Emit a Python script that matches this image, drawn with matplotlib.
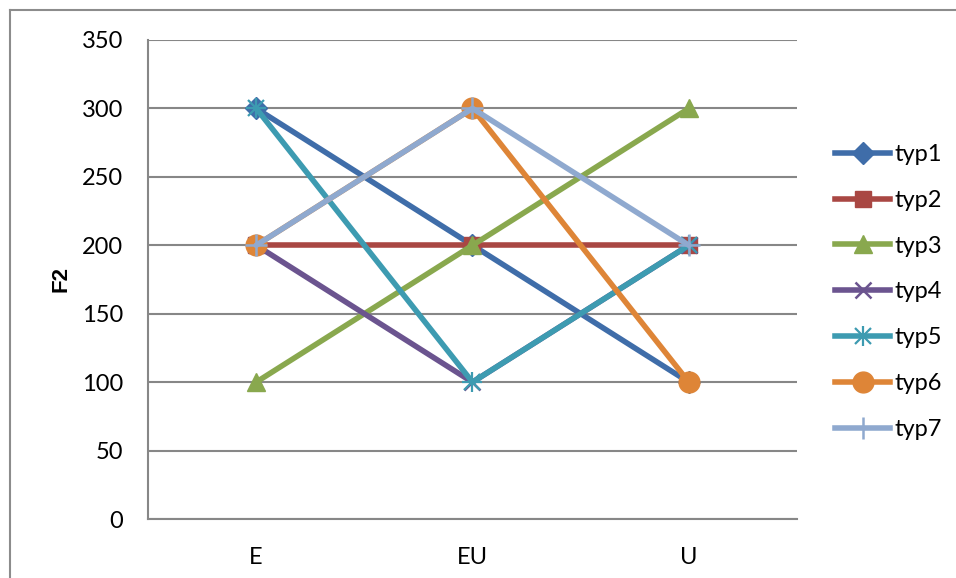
import matplotlib
matplotlib.use("Agg")
import matplotlib.pyplot as plt
from matplotlib.lines import Line2D

categories = ["E", "EU", "U"]
series_names = ["typ1", "typ2", "typ3", "typ4", "typ5", "typ6", "typ7"]
typ1 = [300, 200, 100]
typ2 = [200, 200, 200]
typ3 = [100, 200, 300]
typ4 = [200, 100, 200]
typ5 = [300, 100, 200]
typ6 = [200, 300, 100]
typ7 = [200, 300, 200]
values = [typ1, typ2, typ3, typ4, typ5, typ6, typ7]
y_ticks = [0, 50, 100, 150, 200, 250, 300, 350]

colors = ["#3F6DA9", "#A94743", "#89A84E", "#6B548F", "#3D9BB1", "#DE8537", "#8FA9CF"]
markers = ["D", "s", "^", "x", "*", "o", "+"]
msizes = [11, 11, 13, 12, 14, 15, 16]

plt.rcParams['font.family'] = ['Lato', 'DejaVu Sans']
FS = 17

fig = plt.figure(figsize=(9.56, 5.78), dpi=100)
W, H = 956, 578
ax = fig.add_axes([148 / W, 1 - 519 / H, (797 - 148) / W, (519 - 40) / H])

x = list(range(len(categories)))
for name, vals, c, m, ms in zip(series_names, values, colors, markers, msizes):
    if m == "*":
        ax.plot(x, vals, color=c, lw=4, marker="x", ms=12, mew=1.6, label=name,
                solid_capstyle="round", zorder=3)
        ax.plot(x, vals, color=c, lw=0, marker="+", ms=14, mew=1.6, zorder=3)
    elif m in ("x", "+"):
        ax.plot(x, vals, color=c, lw=4, marker=m, ms=ms, mew=1.8, label=name,
                solid_capstyle="round", zorder=3)
    else:
        ax.plot(x, vals, color=c, lw=4, marker=m, ms=ms, mec=c, mfc=c, label=name,
                solid_capstyle="round", zorder=3)

ax.set_xlim(-0.5, len(categories) - 0.5)
ax.set_ylim(0, 350)
ax.set_yticks(y_ticks)
ax.set_xticks(x)
ax.set_xticklabels(categories)
ax.tick_params(axis="both", length=0, labelsize=FS, colors="black")
ax.tick_params(axis="y", pad=18)
ax.tick_params(axis="x", pad=20)
ax.grid(axis="y", color="#878787", lw=1.5, zorder=0)
for s in ["top", "right"]:
    ax.spines[s].set_visible(False)
for s in ["left", "bottom"]:
    ax.spines[s].set_color("#878787")
    ax.spines[s].set_linewidth(1.5)
ax.set_ylabel("F2", fontsize=16, fontweight="bold", labelpad=0,
              family=["Liberation Sans", "DejaVu Sans"])
ax.yaxis.set_label_coords((72 - 148) / (797 - 148), 0.5)

leg_handles = []
for name, c, m, ms in zip(series_names, colors, markers, msizes):
    if m == "*":
        h = (Line2D([], [], color=c, lw=4, marker="x", ms=12, mew=1.6),
             Line2D([], [], color=c, lw=0, marker="+", ms=14, mew=1.6))
    elif m in ("x", "+"):
        h = Line2D([], [], color=c, lw=4, marker=m, ms=ms, mew=1.8)
    else:
        h = Line2D([], [], color=c, lw=4, marker=m, ms=ms, mec=c, mfc=c)
    leg_handles.append(h)
leg = fig.legend(leg_handles, series_names, loc="center left",
                 bbox_to_anchor=(835 / W, 1 - 292 / H), frameon=False,
                 fontsize=FS, handlelength=2.35, handletextpad=0.15,
                 labelspacing=1.05, borderaxespad=0, borderpad=0)

# outer chart frame
fig.add_artist(Line2D([9.5 / W, 9.5 / W], [0, 1 - 10 / H], transform=fig.transFigure,
                      color="#8C8C8C", lw=1.5))
fig.add_artist(Line2D([9.5 / W, 1], [1 - 10 / H, 1 - 10 / H], transform=fig.transFigure,
                      color="#8C8C8C", lw=1.5))

fig.savefig("out.png", dpi=100)
